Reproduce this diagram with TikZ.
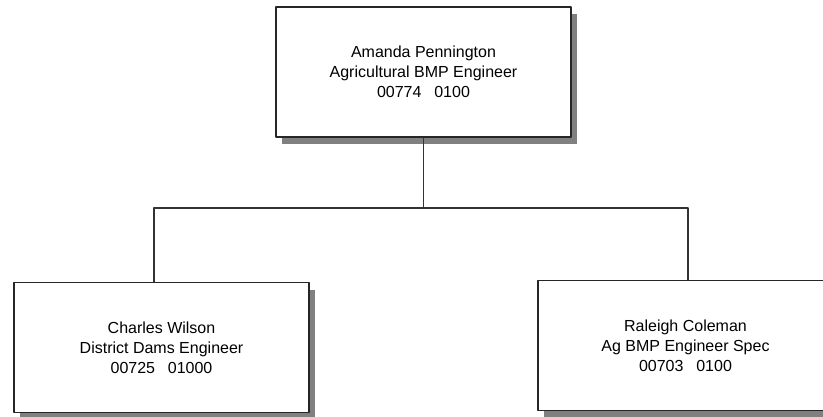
\documentclass[tikz,border=0pt]{standalone}
\usepackage{fontspec}
\setmainfont{Liberation Sans}
\usetikzlibrary{shadows}

\begin{document}
\begin{tikzpicture}[x=1pt, y=-1pt, line join=round, line cap=round,
  post/.style={draw=black!85, line width=1.4pt, fill=white, minimum width=295pt, minimum height=130pt, align=center, font=\fontsize{16}{20}\selectfont, drop shadow={shadow xshift=6pt, shadow yshift=-7pt, fill=black!50, opacity=1}},
  link/.style={draw=black!80, line width=1.1pt}]
\useasboundingbox (0,0) rectangle (823,417);
\clip (0,0) rectangle (823,417);
\node[post] (amanda) at (423.5,72) {Amanda Pennington\\Agricultural BMP Engineer\\00774\hspace{0.8em}0100};
\node[post] (charles) at (161.5,347.5) {Charles Wilson\\District Dams Engineer\\00725\hspace{0.8em}01000};
\node[post] (raleigh) at (685.5,345.5) {Raleigh Coleman\\Ag BMP Engineer Spec\\00703\hspace{0.8em}0100};
\coordinate (busL) at (154,208);
\coordinate (busR) at (688,208);
\draw[link] (amanda.south) -- (amanda.south |- busL);
\draw[link] (charles.north -| busL) |- (busR) -- (raleigh.north -| busR);
\end{tikzpicture}
\end{document}
